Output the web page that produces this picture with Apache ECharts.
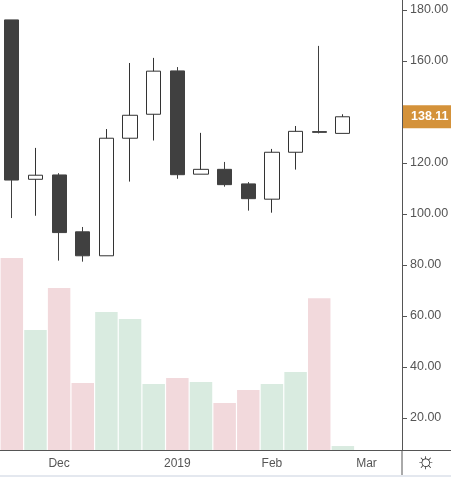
<!DOCTYPE html>
<html><head><meta charset="utf-8">
<script src="https://cdn.jsdelivr.net/npm/echarts@6/dist/echarts.min.js"></script>
<style>html,body{margin:0;padding:0;background:#fff}#c{width:451px;height:477px}</style>
</head><body><div id="c"></div>
<script>
const categories = ['2018-11-19','2018-11-26','2018-12-03','2018-12-10','2018-12-17','2018-12-24','2018-12-31','2019-01-07','2019-01-14','2019-01-21','2019-01-28','2019-02-04','2019-02-11','2019-02-18','2019-02-25','2019-03-04','2019-03-11'];
const tickLabels = {'2018-12-03':'Dec','2019-01-07':'2019','2019-02-04':'Feb','2019-03-04':'Mar'};
// [open, close, low, high]
const ohlc = [
 [176.1,113.3,98.4,176.1],
 [113.6,115.2,99.3,125.9],
 [115.3,92.7,81.7,116.0],
 [93.0,83.6,81.3,94.9],
 [83.6,129.7,83.6,133.3],
 [129.7,138.7,112.7,159.2],
 [139.1,156.0,128.8,161.2],
 [156.1,115.4,113.8,157.6],
 [115.6,117.5,115.6,131.8],
 [117.5,111.5,110.7,120.4],
 [111.8,106.0,101.3,112.5],
 [105.8,124.2,100.5,125.5],
 [124.2,132.4,117.4,134.5],
 [132.3,132.0,131.6,165.9],
 [131.6,138.11,131.6,139.1]
];
const volume = [82.7,54.5,71.0,33.7,61.6,58.8,33.3,35.7,34.1,25.9,31.0,33.3,38.0,67.0,9.0];
const volumeUp = [false,true,false,false,true,true,true,false,true,false,false,true,true,false,true];
const lastPrice = 138.11;
const yTicks = [20,40,60,80,100,120,140,160,180];

const chart = echarts.init(document.getElementById('c'));
const yBase = {type:'value',position:'right',min:7.45,max:183.9,splitLine:{show:false}};
chart.setOption({
 animation:false,
 grid:{left:0,right:49,top:0,bottom:27,containLabel:false,outerBoundsMode:'none'},
 xAxis:{type:'category',data:categories,boundaryGap:true,
  axisLine:{lineStyle:{color:'#555'}},
  axisTick:{alignWithLabel:true,interval:(i,v)=>!!tickLabels[v],lineStyle:{color:'#555'},length:4},
  axisLabel:{interval:(i,v)=>!!tickLabels[v],formatter:v=>tickLabels[v]||'',color:'#555',fontSize:12,fontFamily:'Arial',margin:8}},
 yAxis:[
  Object.assign({},yBase,{
   axisLine:{show:true,lineStyle:{color:'#555'}},
   axisTick:{show:true,customValues:yTicks,length:5,lineStyle:{color:'#555'}},
   axisLabel:{customValues:yTicks,formatter:v=>v.toFixed(2),color:'#555',fontSize:12.5,fontFamily:'Arial',margin:8}}),
  Object.assign({},yBase,{
   axisLine:{show:false},
   axisTick:{show:true,customValues:[lastPrice],length:5,lineStyle:{color:'#555'}},
   axisLabel:{customValues:[lastPrice],formatter:v=>v.toFixed(2),color:'#fff',fontWeight:'bold',fontSize:12.5,fontFamily:'Arial',
    backgroundColor:'#d4923a',padding:[5,5,5,8],margin:1}})
 ],
 series:[
  {type:'bar',data:volume.map((v,i)=>({value:v,itemStyle:{color:volumeUp[i]?'#d9ebe0':'#f2d9dc'}})),barWidth:'95%',z:1,silent:true},
  {type:'candlestick',data:ohlc,barWidth:'62%',z:3,
   itemStyle:{color:'#ffffff',color0:'#404040',borderColor:'#333',borderColor0:'#404040',borderWidth:1}}
 ],
 graphic:[
  {type:'line',shape:{x1:402,y1:450,x2:402,y2:477},style:{stroke:'#555',lineWidth:1}},
  {type:'line',shape:{x1:402,y1:450.5,x2:451,y2:450.5},style:{stroke:'#555',lineWidth:1}},
  {type:'rect',shape:{x:0,y:475,width:451,height:2},style:{fill:'#e4e8ef'}},
  {type:'text',left:416,top:451,style:{text:'☼',fontSize:22,fill:'#222'}}
 ]
});
</script></body></html>
